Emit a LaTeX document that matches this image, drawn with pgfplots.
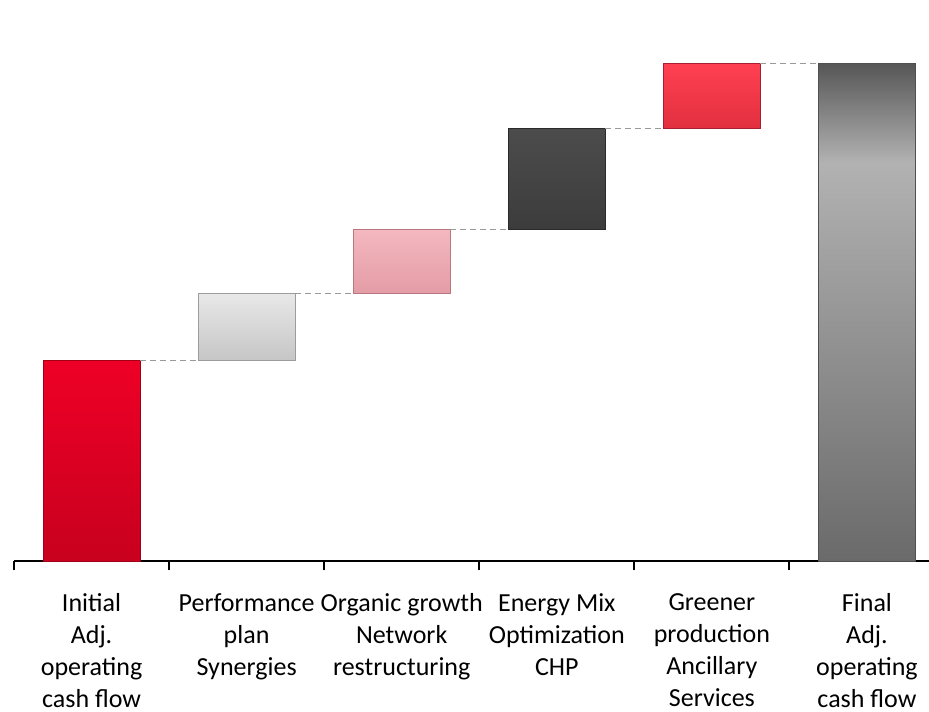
\documentclass[border=0pt]{standalone}
\usepackage{pgfplots}
\pgfplotsset{compat=1.18}
\usepackage{fontspec}
\setmainfont{Carlito}
\definecolor{r1t}{HTML}{EE0026}
\definecolor{r1b}{HTML}{C8001E}
\definecolor{r1d}{HTML}{A00018}
\definecolor{g2t}{HTML}{E8E8E8}
\definecolor{g2b}{HTML}{C6C6C6}
\definecolor{g2d}{HTML}{9C9C9C}
\definecolor{p3t}{HTML}{F4B8C0}
\definecolor{p3b}{HTML}{E49CA6}
\definecolor{p3d}{HTML}{B87880}
\definecolor{d4t}{HTML}{4C4C4C}
\definecolor{d4b}{HTML}{3C3C3C}
\definecolor{d4d}{HTML}{2A2A2A}
\definecolor{r5t}{HTML}{FF4052}
\definecolor{r5b}{HTML}{E2303F}
\definecolor{r5d}{HTML}{A82030}
\definecolor{fb1}{HTML}{6A6A6A}
\definecolor{fb2}{HTML}{B2B2B2}
\definecolor{fb3}{HTML}{565656}
\definecolor{f6d}{HTML}{505050}
\definecolor{conn}{HTML}{9A9A9A}
\pgfdeclareverticalshading{finalbar}{100bp}{color(0bp)=(fb1); color(25bp)=(fb1); color(65bp)=(fb2); color(75bp)=(fb3); color(100bp)=(fb3)}
\begin{document}
\begin{tikzpicture}
\useasboundingbox (-7bp,-75bp) rectangle (457.25bp,280.5bp);
\begin{axis}[
  at={(0,0)}, anchor=south west,
  scale only axis, width=457.25bp, height=280.5bp,
  xmin=-0.5, xmax=5.4, ymin=0, ymax=5.61,
  axis y line=none, axis x line=bottom,
  x axis line style={-, line width=1bp, black},
  xtick={0,1,2,3,4,5},
  xticklabels={{Initial\\Adj.\\operating\\cash flow},{Performance\\plan\\Synergies},{Organic growth\\Network\\restructuring},{Energy Mix\\Optimization\\CHP},{Greener\\production\\Ancillary\\Services},{Final\\Adj.\\operating\\cash flow}},
  major tick length=0pt,
  minor xtick={-0.5,0.5,1.5,2.5,3.5,4.5},
  minor tick length=4.5bp,
  tick align=outside,
  minor tick style={black, line width=1bp},
  xticklabel style={font=\fontsize{13bp}{16bp}\selectfont, align=center, yshift=-12.5bp, execute at begin node=\strut},
  clip=false,
]
% bars
\addplot[draw=r1d, line width=0.5bp, top color=r1t, bottom color=r1b] coordinates {(-0.313,0) (0.313,0) (0.313,2.01) (-0.313,2.01)} -- cycle;
\addplot[draw=g2d, line width=0.5bp, top color=g2t, bottom color=g2b] coordinates {(0.687,2.01) (1.313,2.01) (1.313,2.68) (0.687,2.68)} -- cycle;
\addplot[draw=p3d, line width=0.5bp, top color=p3t, bottom color=p3b] coordinates {(1.687,2.68) (2.313,2.68) (2.313,3.32) (1.687,3.32)} -- cycle;
\addplot[draw=d4d, line width=0.5bp, top color=d4t, bottom color=d4b] coordinates {(2.687,3.32) (3.313,3.32) (3.313,4.33) (2.687,4.33)} -- cycle;
\addplot[draw=r5d, line width=0.5bp, top color=r5t, bottom color=r5b] coordinates {(3.687,4.33) (4.313,4.33) (4.313,4.98) (3.687,4.98)} -- cycle;
\addplot[draw=f6d, line width=0.5bp, shading=finalbar] coordinates {(4.687,0) (5.313,0) (5.313,4.98) (4.687,4.98)} -- cycle;
% connectors
\addplot[conn, line width=0.5bp, dash pattern=on 3bp off 2bp] coordinates {(0.313,2.01) (0.687,2.01)};
\addplot[conn, line width=0.5bp, dash pattern=on 3bp off 2bp] coordinates {(1.313,2.68) (1.687,2.68)};
\addplot[conn, line width=0.5bp, dash pattern=on 3bp off 2bp] coordinates {(2.313,3.32) (2.687,3.32)};
\addplot[conn, line width=0.5bp, dash pattern=on 3bp off 2bp] coordinates {(3.313,4.33) (3.687,4.33)};
\addplot[conn, line width=0.5bp, dash pattern=on 3bp off 2bp] coordinates {(4.313,4.98) (4.687,4.98)};
\end{axis}
\end{tikzpicture}
\end{document}
